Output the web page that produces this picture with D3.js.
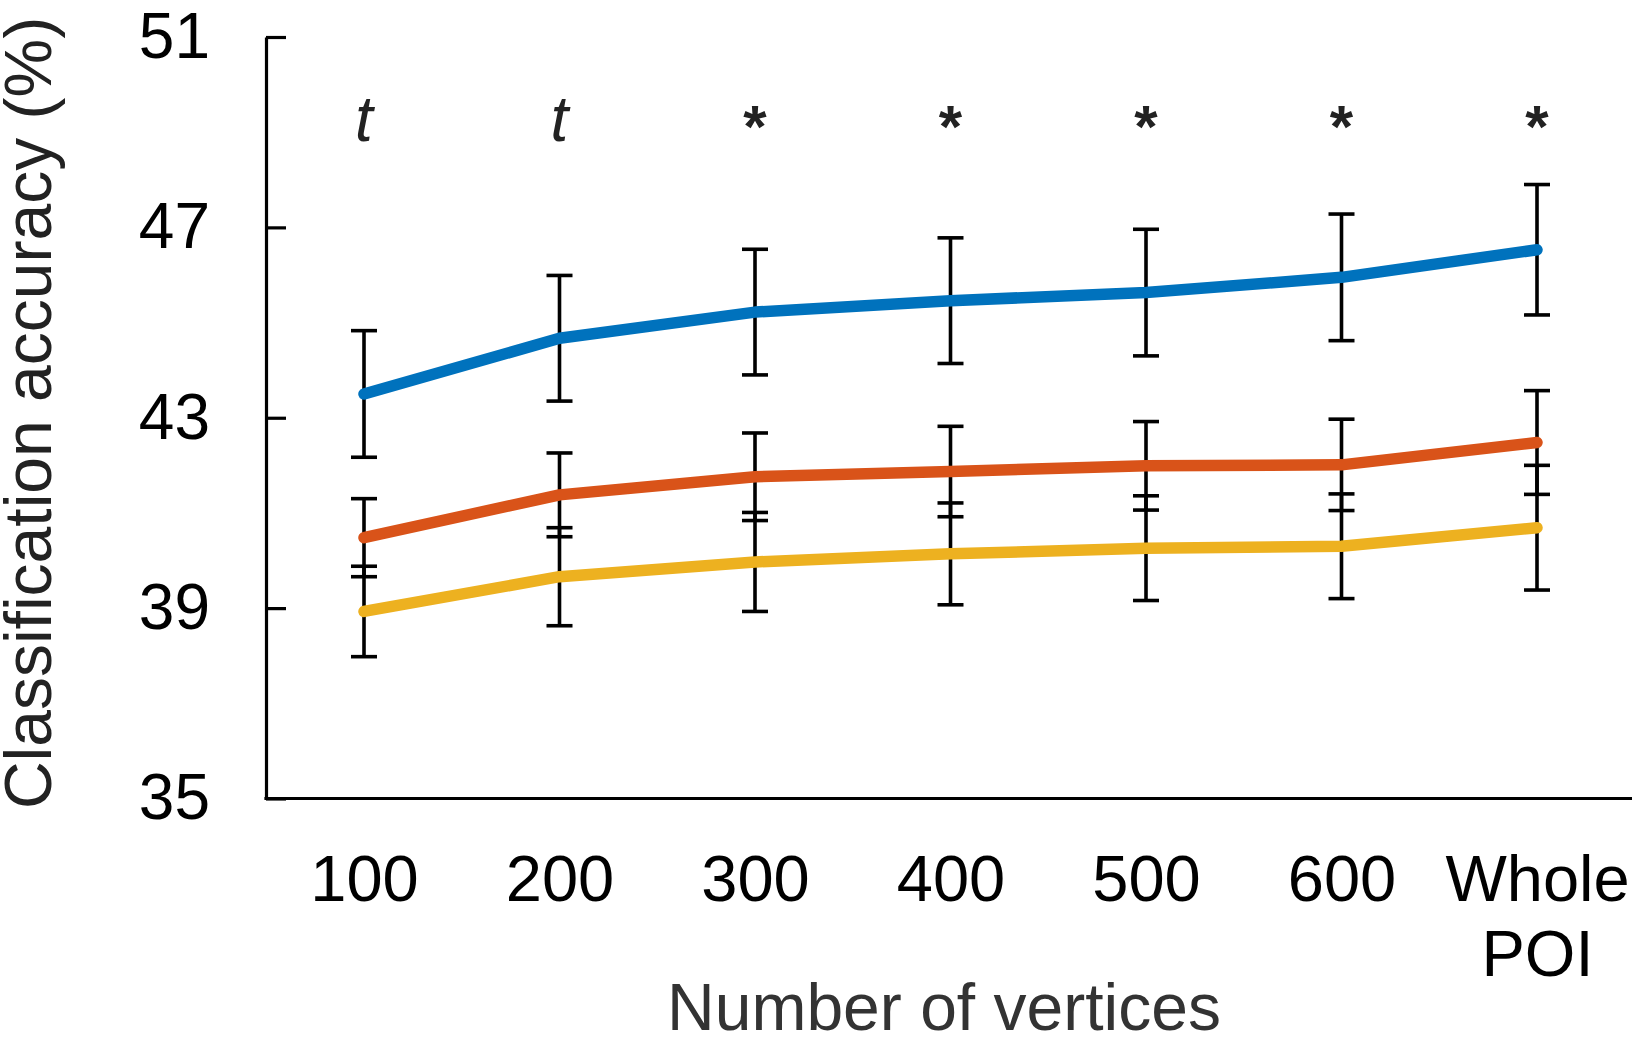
<!DOCTYPE html>
<html>
<head>
<meta charset="utf-8">
<script src="https://cdn.jsdelivr.net/npm/d3@7"></script>
<style>
  html, body { margin: 0; padding: 0; background: #fff; }
  svg { display: block; font-family: "Liberation Sans", Arial, sans-serif; }
</style>
</head>
<body>
<div id="chart"></div>
<script>
// categories along x
const categories = ['100', '200', '300', '400', '500', '600', 'Whole POI'];
const yTicks = [35, 39, 43, 47, 51];
const marks = ['t', 't', '*', '*', '*', '*', '*'];

// mean accuracy (%) and error bar half-widths
const blueMean = [43.50, 44.67, 45.22, 45.46, 45.63, 45.95, 46.53];
const blueErr = [1.33, 1.32, 1.32, 1.32, 1.33, 1.33, 1.37];
const orangeMean = [40.48, 41.38, 41.76, 41.87, 41.99, 42.01, 42.48];
const orangeErr = [0.82, 0.88, 0.92, 0.95, 0.93, 0.96, 1.09];
const yellowMean = [38.93, 39.66, 39.97, 40.14, 40.26, 40.30, 40.69];
const yellowErr = [0.95, 1.03, 1.04, 1.07, 1.10, 1.10, 1.31];

const series = [
  { name: 'yellow', color: '#EDB120', mean: yellowMean, err: yellowErr },
  { name: 'orange', color: '#D95319', mean: orangeMean, err: orangeErr },
  { name: 'blue', color: '#0072BD', mean: blueMean, err: blueErr },
];

const W = 1632, H = 1038;
const mLeft = 266, mRight = 1632, mTop = 37, mBottom = 798.5;

const svg = d3.select('#chart').append('svg')
  .attr('width', W).attr('height', H)
  .attr('viewBox', `0 0 ${W} ${H}`);

const x = d3.scalePoint().domain(categories).range([364, 1537]);
const y = d3.scaleLinear().domain([35, 51]).range([mBottom, mTop]);

// y axis, ticks pointing inward
const yAxis = svg.append('g')
  .attr('transform', `translate(${mLeft},0)`)
  .call(d3.axisLeft(y).tickValues(yTicks).tickSizeInner(-20).tickSizeOuter(0).tickPadding(56));
yAxis.select('.domain').attr('stroke', '#000').attr('stroke-width', 3.2);
yAxis.selectAll('.tick line').attr('stroke', '#000').attr('stroke-width', 3.2);
yAxis.selectAll('.tick text')
  .attr('font-size', 64).attr('fill', '#000')
  .attr('font-family', '"Liberation Sans", Arial, sans-serif');

// x axis: plain baseline, labels without ticks
svg.append('line')
  .attr('x1', mLeft - 1.6).attr('x2', mRight)
  .attr('y1', mBottom).attr('y2', mBottom)
  .attr('stroke', '#000').attr('stroke-width', 3.2);

const xAxis = svg.append('g')
  .attr('transform', `translate(0,${mBottom})`)
  .call(d3.axisBottom(x).tickSize(0).tickPadding(0));
xAxis.select('.domain').remove();
xAxis.selectAll('.tick text').each(function (d) {
  const t = d3.select(this);
  const parts = d.split(' ');
  t.text(null)
    .attr('font-size', 65).attr('fill', '#000')
    .attr('font-family', '"Liberation Sans", Arial, sans-serif')
    .attr('dy', null).attr('y', 0);
  parts.forEach((p, i) => {
    t.append('tspan').attr('x', 0).attr('y', 102 + i * 75).text(p);
  });
});

// error bars
const cap = 13;
series.forEach(s => {
  const g = svg.append('g').attr('stroke', '#000').attr('stroke-width', 3.6);
  categories.forEach((c, i) => {
    const lo = y(s.mean[i] - s.err[i]);
    const hi = y(s.mean[i] + s.err[i]);
    g.append('line').attr('x1', x(c)).attr('x2', x(c)).attr('y1', lo).attr('y2', hi);
    g.append('line').attr('x1', x(c) - cap).attr('x2', x(c) + cap).attr('y1', lo).attr('y2', lo);
    g.append('line').attr('x1', x(c) - cap).attr('x2', x(c) + cap).attr('y1', hi).attr('y2', hi);
  });
});

// mean lines
const line = d3.line()
  .x((d, i) => x(categories[i]))
  .y(d => y(d));
series.forEach(s => {
  svg.append('path')
    .datum(s.mean)
    .attr('d', line)
    .attr('fill', 'none')
    .attr('stroke', s.color)
    .attr('stroke-width', 11.5)
    .attr('stroke-linecap', 'round')
    .attr('stroke-linejoin', 'round');
});

// significance marks
svg.append('g').selectAll('text')
  .data(marks)
  .join('text')
  .attr('x', (d, i) => x(categories[i]))
  .attr('y', d => d === 't' ? 141 : 147)
  .attr('text-anchor', 'middle')
  .attr('fill', '#222')
  .attr('font-size', d => d === 't' ? 64 : 60)
  .attr('font-style', d => d === 't' ? 'italic' : 'normal')
  .attr('font-weight', d => d === 't' ? 'normal' : 'bold')
  .text(d => d);

// axis titles
svg.append('text')
  .attr('x', 944).attr('y', 1030)
  .attr('text-anchor', 'middle')
  .attr('font-size', 66)
  .attr('fill', '#333')
  .text('Number of vertices');

svg.append('text')
  .attr('transform', 'translate(51,413) rotate(-90)')
  .attr('text-anchor', 'middle')
  .attr('font-size', 66)
  .attr('fill', '#222')
  .text('Classification accuracy (%)');
</script>
</body>
</html>
